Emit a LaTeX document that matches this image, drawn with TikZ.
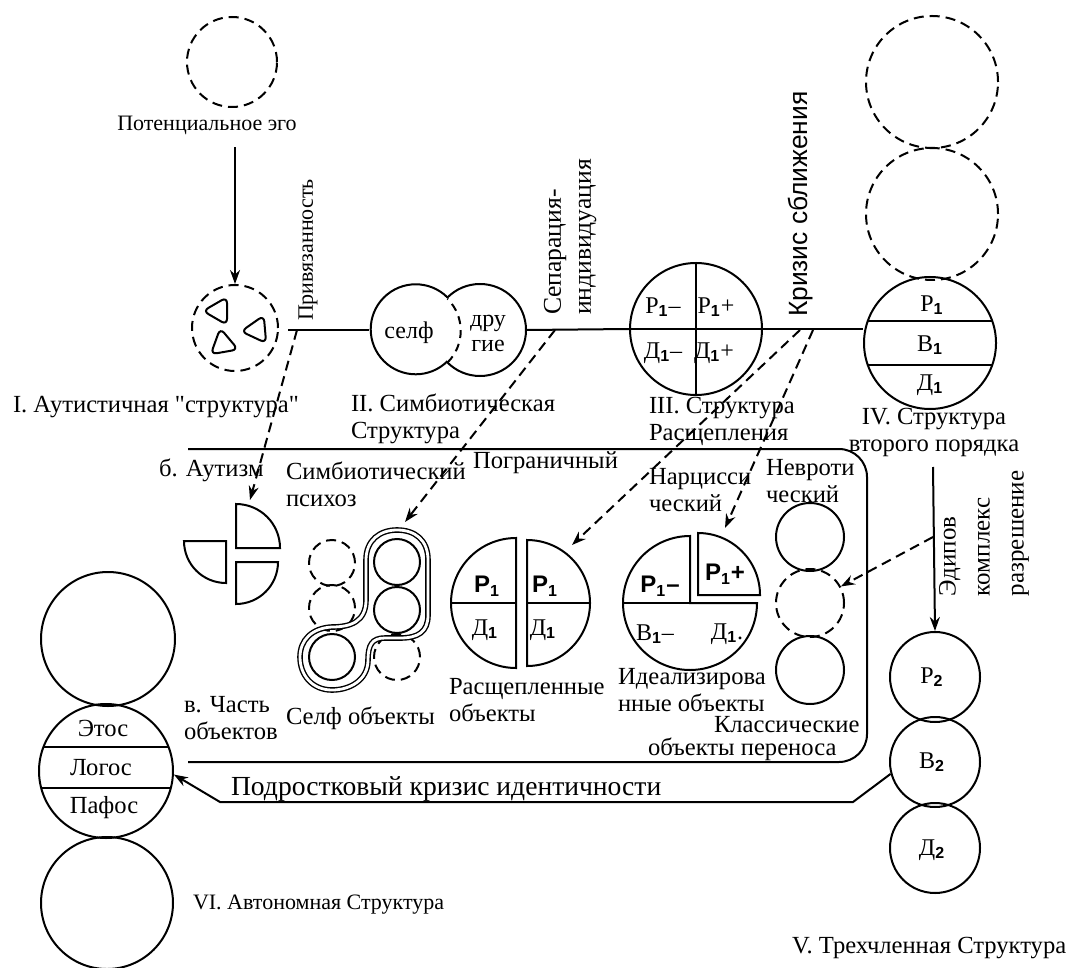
\documentclass[tikz,border=0pt]{standalone}
\usepackage{fontspec}
\setmainfont{Liberation Serif}
\setsansfont{Liberation Sans}
\usepackage{tikz}
\usetikzlibrary{shapes.geometric, arrows.meta, positioning, calc}

\newcommand{\ix}[1]{\textsubscript{\sffamily\bfseries #1}}
\newcommand{\sbf}[1]{\textsf{\textbf{#1}}}

\begin{document}
\begin{tikzpicture}[x=0.5pt, y=-0.5pt, line width=1pt,
    lbl/.style={inner sep=0pt, font=\fontsize{12.3}{13.5}\selectfont},
    sml/.style={inner sep=0pt, font=\fontsize{11}{13.5}\selectfont},
    big/.style={inner sep=0pt, font=\fontsize{12}{12.5}\selectfont},
    ring/.style={circle, draw, inner sep=0pt, minimum size=#1},
    dring/.style={ring=#1, dash pattern=on 5pt off 3pt},
    arr/.style={-{Stealth[length=7pt, width=5pt]}},
    darr/.style={arr, dash pattern=on 5pt off 3pt},
    tri/.style={regular polygon, regular polygon sides=3, draw, rounded corners=3pt, inner sep=0pt, minimum size=16pt}]
    \useasboundingbox (0,0) rectangle (1068,967);

    % Потенциальное эго
    \node[dring=45pt] (pot) at (232,62) {};
    \node[sml] (potl) at (207,125) {Потенциальное эго};

    % I. Аутистичная структура
    \node[dring=43pt] (aut) at (235,328) {};
    \node[tri, rotate=90] (tr1) at (219,311) {};
    \node[tri, rotate=-25] (tr2) at (257,330) {};
    \node[tri, rotate=10] (tr3) at (223,344) {};
    \draw[arr, shorten <=6pt] (aut.north |- potl.south) -- (aut.north);
    \node[lbl, anchor=west] (autl) at (12,407) {I. Аутистичная \textquotedbl структура\textquotedbl};

    % II. Симбиотическая структура
    \node[ring=46pt] (oth) at (480,330) {};
    \fill[white] (415,330) circle[radius=22.5pt];
    \node[circle, inner sep=0pt, minimum size=45pt] (self) at (415,330) {};
    \draw (self.45) arc[start angle=45, end angle=315, radius=22.5pt];
    \draw[dash pattern=on 4pt off 3pt] (self.-45) arc[start angle=-45, end angle=45, radius=22.5pt];
    \node[big] (selfl) at (409,333) {селф};
    \node[big, align=center] (othl) at (488,333) {дру\\гие};
    \node[lbl, align=left, anchor=west] (symbl) at (350,419) {II. Симбиотическая\\Структура};

    % III. Структура расщепления
    \node[ring=66pt] (split) at (696,329) {};
    \draw (split.north) -- (split.south);
    \draw (split.west) -- (split.east);
    \node[big] (s1) at (663,307) {Р\ix{1}--};
    \node[big] (s2) at (716,307) {Р\ix{1}+};
    \node[big] (s3) at (663,353) {Д\ix{1}--};
    \node[big] (s4) at (714,353) {Д\ix{1}+};
    \node[lbl, align=left, anchor=west] (splitl) at (648,421) {III. Структура\\Расщепления};

    % IV. Структура второго порядка
    \node[ring=66pt] (iv) at (930,343) {};
    \node[dring=66pt] (iv1) at (932,82) {};
    \node[dring=66pt] (iv2) at (932,214) {};
    \draw (868,321) -- (992,321);
    \draw (868,365) -- (992,365);
    \node[big] (iva) at (932,305) {Р\ix{1}};
    \node[big] (ivb) at (930,345) {В\ix{1}};
    \node[big] (ivc) at (930,385) {Д\ix{1}};
    \node[lbl, align=center] (ivl) at (934,432) {IV. Структура\\второго порядка};

    % главная линия
    \coordinate (h0) at (288,330);
    \draw (h0) -- (self.west);
    \draw (oth.east) -- (split.west);
    \draw (split.east) -- (split.east -| iv.west);
    \node[sml, rotate=90, anchor=west] (att) at (308,322) {Привязанность};
    \node[inner sep=0pt, font=\fontsize{12.8}{15}\selectfont, rotate=90, anchor=north west, align=left] (sep) at (543,316) {Сепарация-\\индивидуация};
    \node[inner sep=0pt, font=\sffamily\fontsize{13.2}{16}\selectfont, rotate=90, anchor=west] (crl) at (801,318) {Кризис сближения};
    \coordinate (k1) at (297,330);
    \coordinate (k2) at (555,330);
    \coordinate (k3) at (800,330);
    \coordinate (k4) at (813,330);

    % рамка
    \draw[rounded corners=14pt] (188,449) -- (867,449) -- (867,762) -- (188,762);

    % б. Аутизм
    \node[lbl, anchor=west] (autzl) at (158,470) {б. Аутизм};
    \draw (236,548) -- (236,504) arc[start angle=90, end angle=0, radius=22pt] -- cycle;
    \draw (236,562) -- (278,562) arc[start angle=0, end angle=-90, radius=21pt] -- cycle;
    \draw (226,541) -- (226,583) arc[start angle=-90, end angle=-180, radius=21pt] -- cycle;
    \coordinate (autz) at (250,500);
    \draw[darr] (k1) -- (autz);

    % Симбиотический психоз
    \node[lbl, align=left, anchor=west] (psyl) at (285,484) {Симбиотический\\психоз};
    \node[dring=23pt] (sp1) at (332,563) {};
    \node[dring=23pt] (sp2) at (332,608) {};
    \node[ring=23pt] (sp3) at (332,657) {};
    \node[ring=23pt] (sp4) at (397,562) {};
    \node[ring=23pt] (sp5) at (397,610) {};
    \node[dring=23pt] (sp6) at (397,657) {};
    \draw[double, double distance=1.4pt, line width=0.7pt] (397,530)
        .. controls (415,530) and (428,540) .. (428,560) -- (428,615)
        .. controls (428,632) and (418,638) .. (400,638) -- (385,638)
        .. controls (372,638) and (368,645) .. (368,660)
        .. controls (368,680) and (350,690) .. (332,690)
        .. controls (312,690) and (300,675) .. (300,657)
        .. controls (300,640) and (312,628) .. (332,627)
        .. controls (350,627) and (366,622) .. (366,600) -- (366,560)
        .. controls (366,540) and (380,530) .. (397,530) -- cycle;
    \coordinate (caps) at (405,522);
    \draw[darr] (k2) -- (caps);
    \node[lbl, align=left, anchor=west] (partl) at (183,718) {в. Часть\\объектов};
    \node[lbl, anchor=west] (selfo) at (285,718) {Селф объекты};

    % Пограничный
    \node[lbl, anchor=west] (bord) at (472,463) {Пограничный};
    \draw (516,538) arc[start angle=90, end angle=270, radius=32.5pt] -- cycle;
    \draw (527,540) arc[start angle=90, end angle=-90, radius=31.5pt] -- cycle;
    \draw (451,603) -- (516,603);
    \draw (527,603) -- (590,603);
    \node[big] (b1) at (487,586) {\sbf{Р\ix{1}}};
    \node[big] (b2l) at (485,630) {Д\ix{1}};
    \node[big] (b3) at (545,586) {\sbf{Р\ix{1}}};
    \node[big] (b4) at (543,630) {Д\ix{1}};
    \node[lbl, align=left, anchor=west] (splo) at (448,700) {Расщепленные\\объекты};
    \coordinate (splt) at (572,545);
    \draw[darr] (k3) -- (splt);

    % Нарциссический
    \node[lbl, align=left, anchor=west] (narl) at (648,490) {Нарцисси\\ческий};
    \draw (690,603) -- (690,536) arc[start angle=90, end angle=360, radius=33.5pt] -- cycle;
    \draw (623,603) -- (690,603);
    \draw (698,595) -- (698,533) arc[start angle=90, end angle=0, radius=31pt] -- cycle;
    \node[big] (n1) at (660,586) {\sbf{Р\ix{1}--}};
    \node[big] (n2) at (725,574) {\sbf{Р\ix{1}+}};
    \node[big] (n3) at (655,634) {В\ix{1}--};
    \node[big] (n4) at (727,634) {Д\ix{1}.};
    \node[lbl, align=left, anchor=west] (idl) at (617,690) {Идеализирова\\нные объекты};
    \coordinate (ideal) at (725,528);
    \draw[darr] (k4) -- (ideal);

    % Невротический
    \node[lbl, align=left, anchor=west] (neul) at (765,481) {Невроти\\ческий};
    \node[ring=34pt] (neu1) at (810,537) {};
    \node[dring=34pt] (neu2) at (810,603) {};
    \node[ring=34pt] (neu3) at (810,670) {};
    \node[inner sep=0pt, font=\fontsize{12.3}{11.5}\selectfont, align=left, anchor=west] (clal) at (647,739) {\hspace{33pt}Классические\\объекты переноса};

    % V. Трехчленная структура
    \node[ring=45pt] (p2) at (935,677) {};
    \node[ring=45pt] (b2) at (935,762) {};
    \node[ring=45pt] (d2) at (935,848) {};
    \node[big] (p2l) at (932,677) {Р\ix{2}};
    \node[big] (b2t) at (932,762) {В\ix{2}};
    \node[big] (d2l) at (932,850) {Д\ix{2}};
    \node[lbl, anchor=west] (vl) at (791,948) {V. Трехчленная Структура};

    % Эдипов комплекс
    \coordinate (e0) at (933,467);
    \draw[arr] (e0) -- (p2.north);
    \coordinate (e1) at (933,537);
    \draw[darr] (e1) -- (neu2);
    \node[inner sep=0pt, font=\fontsize{12.5}{17}\selectfont, rotate=90, anchor=north west, align=left] (oed) at (938,597) {Эдипов\\комплекс\\разрешение};

    % VI. Автономная структура
    \node[ring=67pt] (vi1) at (108,639) {};
    \node[ring=67pt] (vi2) at (106,771) {};
    \node[ring=66pt] (vi3) at (107,903) {};
    \draw (44,747) -- (169,747);
    \draw (42,788) -- (171,788);
    \node[lbl] (eth) at (103,728) {Этос};
    \node[lbl] (log) at (101,768) {Логос};
    \node[lbl] (pat) at (104,808) {Пафос};
    \node[sml, anchor=west] (vil) at (192,905) {VI. Автономная Структура};

    % Подростковый кризис
    \draw[arr] (b2.195) -- (853,802) -- (220,802) -- (vi2.-3);
    \node[inner sep=0pt, font=\fontsize{13.8}{15}\selectfont, anchor=west] (adol) at (230,789) {Подростковый кризис идентичности};
\end{tikzpicture}
\end{document}
